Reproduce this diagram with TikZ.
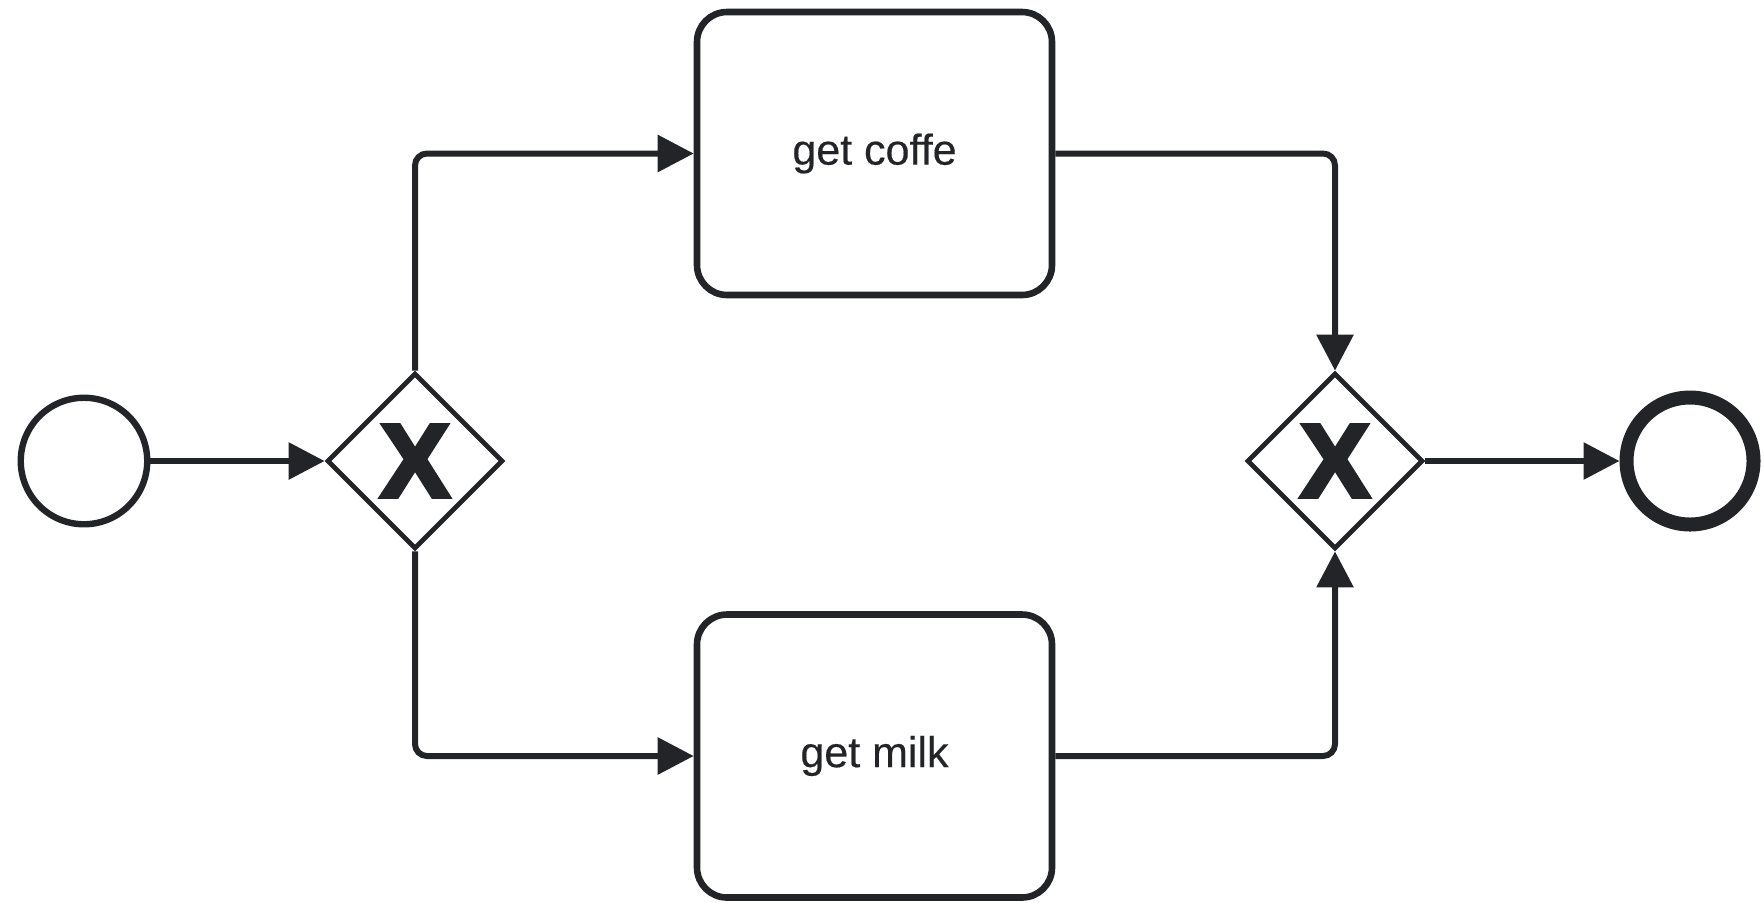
\documentclass[tikz,border=0pt]{standalone}
\usepackage{fontspec}
\setmainfont{Liberation Sans}
\newfontfamily\gatefont{Liberation Sans Bold}[FakeBold=4]
\newfontfamily\taskfont{Liberation Sans}[FakeBold=0.35]
\usetikzlibrary{shapes.geometric,arrows.meta}
\definecolor{ink}{RGB}{34,36,40}
\begin{document}
\begin{tikzpicture}[x=0.5pt,y=-0.5pt,
  startev/.style={circle,draw=ink,line width=3.2pt,minimum size=63.25pt,inner sep=0pt,fill=white},
  endev/.style={circle,draw=ink,line width=7pt,minimum size=63.5pt,inner sep=0pt,fill=white},
  xgate/.style={diamond,draw=ink,line width=2.4pt,minimum width=88pt,minimum height=88pt,inner sep=0pt,
    fill=white,text=ink,font=\gatefont\fontsize{52pt}{52pt}\selectfont},
  task/.style={rectangle,rounded corners=15pt,draw=ink,line width=3.3pt,minimum width=177.5pt,
    minimum height=141.5pt,fill=white,text=ink,font=\taskfont\fontsize{21.5pt}{25pt}\selectfont},
  flow/.style={draw=ink,line width=3pt,rounded corners=6pt,-{Triangle[length=18pt,width=18pt]}}
]
\useasboundingbox (0,0) rectangle (1764,902);

% events, gateways and tasks
\node[startev] (start) at (84,461) {};
\node[xgate] (split) at (415,461) {X};
\node[task] (coffee) at (874.5,153.5) {get coffe};
\node[task] (milk) at (874.5,756) {get milk};
\node[xgate] (join) at (1335,461) {X};
\node[endev] (finish) at (1690,461) {};

% sequence flows
\draw[flow] (start.east) -- (split.west);
\draw[flow] (split.north) |- (coffee.west);
\draw[flow] (split.south) |- (milk.west);
\draw[flow] (coffee.east) -| (join.north);
\draw[flow] (milk.east) -| (join.south);
\draw[flow] (join.east) -- (finish.west);
\end{tikzpicture}
\end{document}
